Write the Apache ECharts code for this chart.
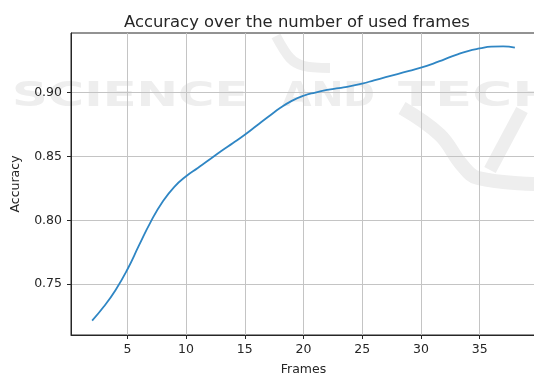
<!DOCTYPE html>
<html>
<head>
<meta charset="utf-8">
<style>
  html, body { margin: 0; padding: 0; background: #fff; }
  #chart { width: 534px; height: 376px; }
</style>
<script src="https://cdn.jsdelivr.net/npm/echarts@6/dist/echarts.min.js"></script>
</head>
<body>
<div id="chart"></div>
<script>
// Number of frames used per prediction
const frames = [2, 3, 4, 5, 6, 7, 8, 9, 10, 11, 12, 13, 14, 15, 16, 17, 18, 19, 20,
                21, 22, 23, 24, 25, 26, 27, 28, 29, 30, 31, 32, 33, 34, 35, 36, 37, 38];
// Accuracy reached with that many frames
const accuracy = [0.7215, 0.7325, 0.7455, 0.7615, 0.7805, 0.7990, 0.8145, 0.8262, 0.8345,
                  0.8410, 0.8475, 0.8542, 0.8605, 0.8670, 0.8740, 0.8810, 0.8878, 0.8935,
                  0.8975, 0.9000, 0.9020, 0.9035, 0.9050, 0.9070, 0.9095, 0.9120, 0.9145,
                  0.9170, 0.9195, 0.9225, 0.9260, 0.9295, 0.9325, 0.9345, 0.9360, 0.9362, 0.9352];
// Tick labels
const xTicks = [5, 10, 15, 20, 25, 30, 35];
const yTicks = [0.75, 0.80, 0.85, 0.90];

const FONT = 'DejaVu Sans';
const INK = '#262626';

const chart = echarts.init(document.getElementById('chart'), null, { renderer: 'canvas' });

// faint publisher watermark behind the plot
const wmColor = '#eeeeee';
const watermark = [
  { text: 'SCIENCE', x: 12, sx: 1.46 },
  { text: 'AND', x: 282, sx: 1.12 },
  { text: 'TECH', x: 398, sx: 1.6 }
].map(function (wd) {
  return {
    type: 'text', z: -10, silent: true,
    x: wd.x, y: 80, scaleX: wd.sx,
    style: { text: wd.text, fill: wmColor, font: 'bold 34px "DejaVu Sans"', textVerticalAlign: 'top' }
  };
});
watermark.push(
  {
    type: 'polyline', z: -10, silent: true,
    shape: { points: [[402, 108], [440, 135], [462, 165], [478, 178], [540, 184]], smooth: 0.4 },
    style: { stroke: wmColor, lineWidth: 14, fill: null }
  },
  {
    type: 'polyline', z: -10, silent: true,
    shape: { points: [[522, 110], [490, 170]] },
    style: { stroke: wmColor, lineWidth: 13, fill: null }
  },
  {
    type: 'polyline', z: -10, silent: true,
    shape: { points: [[276, 36], [290, 58], [304, 66], [330, 68]], smooth: 0.3 },
    style: { stroke: wmColor, lineWidth: 10, fill: null }
  }
);

chart.setOption({
  animation: false,
  title: {
    text: 'Accuracy over the number of used frames',
    left: 119, top: 10,
    textStyle: { fontFamily: FONT, fontSize: 16.4, fontWeight: 'normal', color: INK }
  },
  graphic: watermark,
  grid: {
    left: 71, top: 33, width: 465, bottom: 41,
    show: true, borderColor: INK, borderWidth: 1, backgroundColor: 'transparent',
    containLabel: false, outerBoundsMode: 'none'
  },
  xAxis: {
    type: 'value', min: 0.2, max: 39.8, splitNumber: 8,
    name: 'Frames', nameLocation: 'middle', nameGap: 28,
    nameTextStyle: { fontFamily: FONT, fontSize: 12.5, color: INK },
    axisLine: { lineStyle: { color: INK, width: 1 } },
    axisTick: { length: 4, lineStyle: { color: INK }, customValues: xTicks },
    axisLabel: { fontFamily: FONT, fontSize: 12.5, color: INK, margin: 8, customValues: xTicks },
    splitLine: { show: true, lineStyle: { color: '#c4c4c4', width: 1 } }
  },
  yAxis: {
    type: 'value', min: 0.7102, max: 0.9466, splitNumber: 5,
    name: 'Accuracy', nameLocation: 'middle', nameGap: 49, nameRotate: 90,
    nameTextStyle: { fontFamily: FONT, fontSize: 12.5, color: INK },
    axisLine: { show: true, lineStyle: { color: INK, width: 1 } },
    axisTick: { show: true, length: 4, lineStyle: { color: INK }, customValues: yTicks },
    axisLabel: {
      fontFamily: FONT, fontSize: 12.5, color: INK, margin: 9, customValues: yTicks,
      formatter: function (v) { return v.toFixed(2); }
    },
    splitLine: { show: true, lineStyle: { color: '#c4c4c4', width: 1 } }
  },
  series: [{
    type: 'line',
    data: frames.map(function (f, i) { return [f, accuracy[i]]; }),
    smooth: 0.5,
    showSymbol: false,
    lineStyle: { color: '#2f86c4', width: 1.8 }
  }]
});
</script>
</body>
</html>
